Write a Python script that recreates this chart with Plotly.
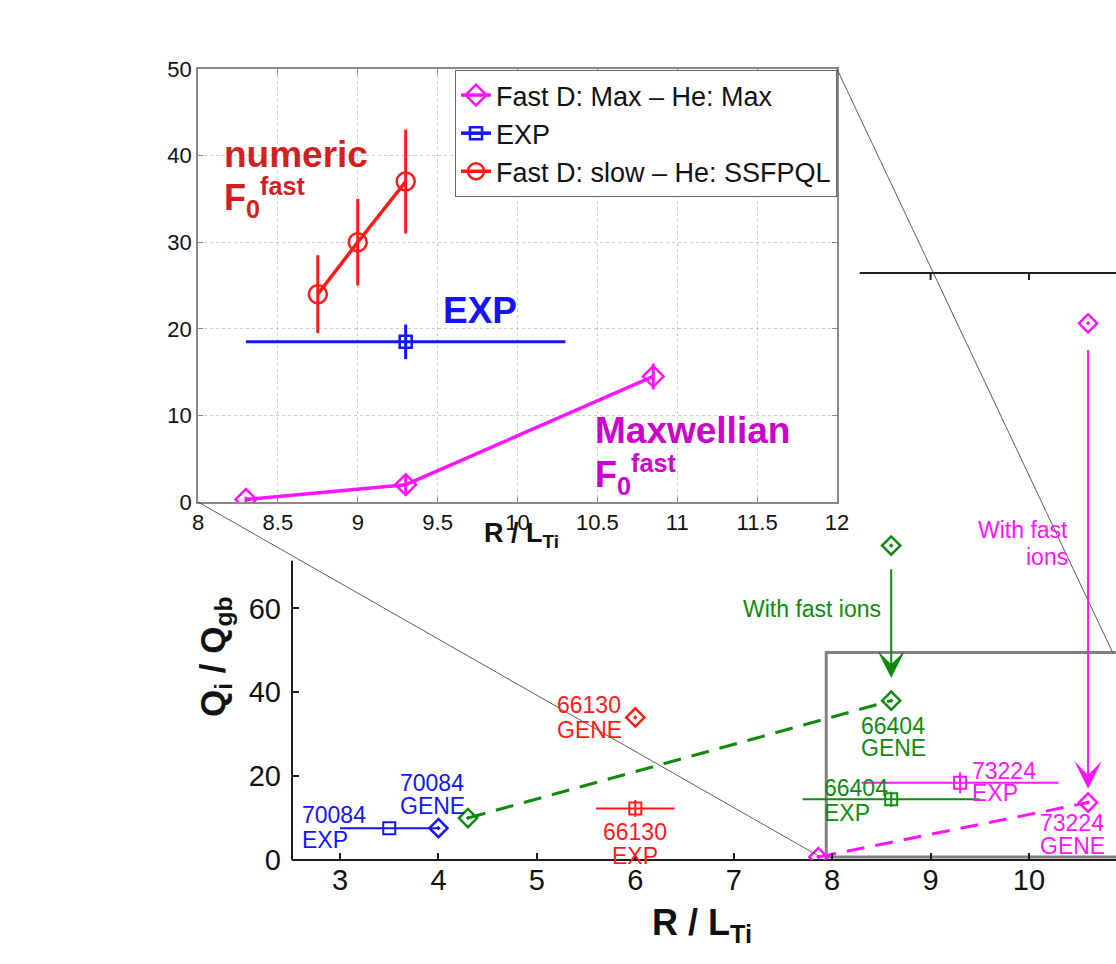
import plotly.graph_objects as go

W, H = 1116, 964
FONT = "Liberation Sans, Arial, Helvetica, sans-serif"

BLUE = "#1414ff"
RED = "#ff1a1a"
GREEN = "#0f8a0f"
MAGENTA = "#ff14ff"
DKRED = "#d21f1f"
DKMAG = "#cc00cc"

# ---------------- main panel data ----------------
exp70084_x = [3.5]
exp70084_y = [7.6]
exp70084_xerr = [0.5]

gene70084_x = [4.0]
gene70084_y = [7.6]

gene66130_x = [6.0]
gene66130_y = [34.0]

exp66130_x = [6.0]
exp66130_y = [12.3]
exp66130_xerr = [0.4]
exp66130_yerr = [2.0]

gene66404_x = [4.3, 8.6]
gene66404_y = [10.0, 38.0]
gene66404_nofast_x = [8.6]
gene66404_nofast_y = [75.0]

exp66404_x = [8.6]
exp66404_y = [14.5]
exp66404_xerr = [0.9]
exp66404_yerr = [1.8]

gene73224_x = [7.86, 10.6]
gene73224_y = [0.7, 13.7]
gene73224_nofast_x = [10.6]
gene73224_nofast_y = [128.0]

exp73224_x = [9.3]
exp73224_y = [18.4]
exp73224_xerr = [1.0]
exp73224_yerr = [2.5]

main_xticks = [3, 4, 5, 6, 7, 8, 9, 10]
main_yticks = [0, 20, 40, 60]
main_top_ticks = [9, 10]

# ---------------- inset data ----------------
max_x = [8.3, 9.3, 10.85]
max_y = [0.3, 2.0, 14.5]
max_yerr = [0.3, 1.2, 1.5]

expi_x = [9.3]
expi_y = [18.5]
expi_xerr = [1.0]
expi_yerr = [2.0]

slow_x = [8.75, 9.0, 9.3]
slow_y = [24.0, 30.0, 37.0]
slow_yerr = [4.5, 5.0, 6.0]

inset_xticks = [8, 8.5, 9, 9.5, 10, 10.5, 11, 11.5, 12]
inset_xticklabels = ["8", "8.5", "9", "9.5", "10", "10.5", "11", "11.5", "12"]
inset_yticks = [0, 10, 20, 30, 40, 50]

# ---------------- geometry ----------------
MX_DOM = [292 / W, 1.0]
MY_DOM = [(H - 860) / H, (H - 273) / H]
MX_RANGE = [2.512, 10.884]
MY_RANGE = [0, 140]

IX_DOM = [198 / W, 837 / W]
IY_DOM = [(H - 502) / H, (H - 69) / H]
IX_RANGE = [8, 12]
IY_RANGE = [0, 50]


def to_paper(v, rng, dom):
    return dom[0] + (v - rng[0]) / (rng[1] - rng[0]) * (dom[1] - dom[0])


fig = go.Figure()

# ---------------- main traces ----------------
mk = dict(size=14, line=dict(width=2.5))

fig.add_trace(go.Scatter(x=gene66404_x, y=gene66404_y, mode="lines+markers",
                         line=dict(color=GREEN, width=3, dash="18px,11px"),
                         marker=dict(symbol="diamond-open-dot", color=GREEN, **mk),
                         showlegend=False))
fig.add_trace(go.Scatter(x=gene66404_nofast_x, y=gene66404_nofast_y, mode="markers",
                         marker=dict(symbol="diamond-open-dot", color=GREEN, **mk),
                         showlegend=False))
fig.add_trace(go.Scatter(x=gene73224_x, y=gene73224_y, mode="lines+markers",
                         line=dict(color=MAGENTA, width=3, dash="18px,11px"),
                         marker=dict(symbol="diamond-open-dot", color=MAGENTA, **mk),
                         showlegend=False))
fig.add_trace(go.Scatter(x=gene73224_nofast_x, y=gene73224_nofast_y, mode="markers",
                         marker=dict(symbol="diamond-open-dot", color=MAGENTA, **mk),
                         showlegend=False))
fig.add_trace(go.Scatter(x=gene70084_x, y=gene70084_y, mode="markers",
                         marker=dict(symbol="diamond-open-dot", color=BLUE, **mk),
                         showlegend=False))
fig.add_trace(go.Scatter(x=gene66130_x, y=gene66130_y, mode="markers",
                         marker=dict(symbol="diamond-open-dot", color=RED, **mk),
                         showlegend=False))


def exp_trace(x, y, xerr, yerr, color):
    ey = dict(type="data", array=yerr, thickness=2, width=0, color=color) if yerr else dict(visible=False)
    return go.Scatter(x=x, y=y, mode="markers",
                      marker=dict(symbol="square-open", size=12, color=color, line=dict(width=2)),
                      error_x=dict(type="data", array=xerr, thickness=2, width=0, color=color),
                      error_y=ey, showlegend=False)


fig.add_trace(exp_trace(exp70084_x, exp70084_y, exp70084_xerr, None, BLUE))
fig.add_trace(exp_trace(exp66130_x, exp66130_y, exp66130_xerr, exp66130_yerr, RED))
fig.add_trace(exp_trace(exp66404_x, exp66404_y, exp66404_xerr, exp66404_yerr, GREEN))
fig.add_trace(exp_trace(exp73224_x, exp73224_y, exp73224_xerr, exp73224_yerr, MAGENTA))

# ---------------- inset traces ----------------
fig.add_trace(go.Scatter(x=max_x, y=max_y, mode="lines+markers", xaxis="x2", yaxis="y2",
                         name="Fast D: Max \u2013 He: Max",
                         line=dict(color=MAGENTA, width=3.5),
                         marker=dict(symbol="diamond-open", size=16, color=MAGENTA, line=dict(width=2.5)),
                         error_y=dict(type="data", array=max_yerr, thickness=3, width=0, color=MAGENTA)))
fig.add_trace(go.Scatter(x=expi_x, y=expi_y, mode="lines+markers", xaxis="x2", yaxis="y2",
                         name="EXP",
                         line=dict(color=BLUE, width=3.5),
                         marker=dict(symbol="square-open", size=12, color=BLUE, line=dict(width=2.5)),
                         error_x=dict(type="data", array=expi_xerr, thickness=3, width=0, color=BLUE),
                         error_y=dict(type="data", array=expi_yerr, thickness=3, width=0, color=BLUE)))
fig.add_trace(go.Scatter(x=slow_x, y=slow_y, mode="lines+markers", xaxis="x2", yaxis="y2",
                         name="Fast D: slow \u2013 He: SSFPQL",
                         line=dict(color=RED, width=3.5),
                         marker=dict(symbol="circle-open", size=18, color=RED, line=dict(width=2.5)),
                         error_y=dict(type="data", array=slow_yerr, thickness=3, width=0, color=RED)))

# ---------------- shapes ----------------
AX = "#1e1e1e"
shapes = [
    # main spines (left spine hidden behind inset area above ~71)
    dict(type="line", xref="x domain", yref="y", x0=0, x1=0, y0=0, y1=71.4,
         line=dict(color=AX, width=2), layer="below"),
    dict(type="line", xref="x domain", yref="y domain", x0=0, x1=1, y0=0, y1=0,
         line=dict(color=AX, width=2), layer="below"),
    dict(type="line", xref="x", yref="y domain", x0=8.28, x1=MX_RANGE[1], y0=1, y1=1,
         line=dict(color=AX, width=2), layer="below"),
    # zoom box
    dict(type="rect", xref="x", yref="y", x0=7.94, x1=12.5, y0=0.7, y1=49.5,
         line=dict(color="#808080", width=3), layer="below"),
]
for t in main_top_ticks:
    shapes.append(dict(type="line", xref="x", yref="y", ysizemode="pixel", yanchor=MY_RANGE[1],
                       x0=t, x1=t, y0=0, y1=-7, line=dict(color=AX, width=2)))

# connecting lines from inset corners to zoom box
ax0 = to_paper(8, IX_RANGE, IX_DOM); ay0 = to_paper(0, IY_RANGE, IY_DOM)
bx0 = to_paper(7.86, MX_RANGE, MX_DOM); by0 = to_paper(1.0, MY_RANGE, MY_DOM)
ax1 = to_paper(12, IX_RANGE, IX_DOM); ay1 = to_paper(50, IY_RANGE, IY_DOM)
bx1 = to_paper(10.85, MX_RANGE, MX_DOM); by1 = to_paper(49.5, MY_RANGE, MY_DOM)
shapes.append(dict(type="line", xref="paper", yref="paper", x0=ax0, y0=ay0, x1=bx0, y1=by0,
                   line=dict(color="#333333", width=0.8), layer="above"))
shapes.append(dict(type="line", xref="paper", yref="paper", x0=ax1, y0=ay1, x1=bx1, y1=by1,
                   line=dict(color="#333333", width=0.8), layer="above"))

# ---------------- annotations ----------------
ann = []


def lab(text, x, y, color, xanchor="left", size=23, xref="x", yref="y"):
    ann.append(dict(text=text, x=x, y=y, xref=xref, yref=yref, xanchor=xanchor, yanchor="middle",
                    showarrow=False, font=dict(family=FONT, size=size, color=color)))


lab("70084", 2.59, 10.7, BLUE)
lab("EXP", 2.59, 4.8, BLUE)
lab("70084", 3.59, 18.4, BLUE)
lab("GENE", 3.59, 12.9, BLUE)
lab("66130", 5.18, 37.0, RED)
lab("GENE", 5.18, 31.0, RED)
lab("66130", 6.0, 6.7, RED, "center")
lab("EXP", 6.0, 1.0, RED, "center")
lab("66404", 8.62, 32.0, GREEN, "center")
lab("GENE", 8.62, 26.7, GREEN, "center")
lab("66404", 7.90, 17.2, GREEN)
lab("EXP", 7.90, 11.2, GREEN)
lab("73224", 9.40, 21.2, MAGENTA)
lab("EXP", 9.40, 16.0, MAGENTA)
lab("73224", 10.44, 8.8, MAGENTA, "center")
lab("GENE", 10.44, 3.3, MAGENTA, "center")
lab("With fast ions", 7.80, 59.9, GREEN, "center")
lab("With fast", 10.42, 78.7, MAGENTA, "right")
lab("ions", 10.42, 72.3, MAGENTA, "right")

# arrows
ann.append(dict(x=8.6, y=43.4, ax=8.6, ay=69.7, xref="x", yref="y", axref="x", ayref="y",
                text="", showarrow=True, arrowhead=3, arrowsize=2.3, arrowwidth=2, arrowcolor=GREEN))
ann.append(dict(x=10.6, y=17.0, ax=10.6, ay=122.0, xref="x", yref="y", axref="x", ayref="y",
                text="", showarrow=True, arrowhead=3, arrowsize=2.3, arrowwidth=2, arrowcolor=MAGENTA))

# inset labels
lab("<b>numeric</b>", 8.15, 40.1, DKRED, size=37, xref="x2", yref="y2")
lab("<b>F<sub>0</sub><sup>fast</sup></b>", 8.15, 35.2, DKRED, size=36, xref="x2", yref="y2")
lab("<b>EXP</b>", 9.52, 22.1, BLUE, size=37, xref="x2", yref="y2")
lab("<b>Maxwellian</b>", 10.47, 8.3, DKMAG, size=37, xref="x2", yref="y2")
lab("<b>F<sub>0</sub><sup>fast</sup></b>", 10.47, 3.2, DKMAG, size=36, xref="x2", yref="y2")

# axis titles
lab("<b>R / L<sub>Ti</sub></b>", 521 / W, (H - 535) / H, "#111111", "center", 27, "paper", "paper")
lab("<b>R / L<sub>Ti</sub></b>", 702 / W, (H - 925) / H, "#111111", "center", 36, "paper", "paper")
ann.append(dict(text="<b>Q<sub>i</sub> / Q<sub>gb</sub></b>", x=215 / W, y=(H - 657) / H,
                xref="paper", yref="paper", xanchor="center", yanchor="middle", textangle=-90,
                showarrow=False, font=dict(family=FONT, size=35, color="#111111")))

fig.update_layout(
    width=W, height=H,
    margin=dict(l=0, r=0, t=0, b=0),
    paper_bgcolor="white", plot_bgcolor="white",
    font=dict(family=FONT, color="#111111"),
    shapes=shapes, annotations=ann,
    xaxis=dict(domain=MX_DOM, range=MX_RANGE, tickvals=main_xticks, ticks="inside", ticklen=7,
               tickwidth=2, tickcolor=AX, showline=False, showgrid=False, zeroline=False,
               tickfont=dict(size=29, color="#111111"), automargin=False, anchor="y"),
    yaxis=dict(domain=MY_DOM, range=MY_RANGE, tickvals=main_yticks, ticks="inside", ticklen=7,
               tickwidth=2, tickcolor=AX, showline=False, showgrid=False, zeroline=False,
               ticklabelstandoff=10,
               tickfont=dict(size=29, color="#111111"), automargin=False, anchor="x"),
    xaxis2=dict(domain=IX_DOM, range=IX_RANGE, tickvals=inset_xticks, ticktext=inset_xticklabels,
                ticks="inside", ticklen=5, tickcolor="#888888", showline=True, linecolor="#888888",
                linewidth=1.5, mirror="ticks", showgrid=True, gridcolor="#cccccc", griddash="dot",
                gridwidth=1, zeroline=False, tickfont=dict(size=22, color="#111111"),
                automargin=False, anchor="y2"),
    yaxis2=dict(domain=IY_DOM, range=IY_RANGE, tickvals=inset_yticks,
                ticks="inside", ticklen=5, tickcolor="#888888", showline=True, linecolor="#888888",
                linewidth=1.5, mirror="ticks", showgrid=True, gridcolor="#cccccc", griddash="dot",
                gridwidth=1, zeroline=False, tickfont=dict(size=22, color="#111111"),
                automargin=False, anchor="x2"),
    legend=dict(x=837 / W, y=(H - 70) / H, xanchor="right", yanchor="top",
                bgcolor="white", bordercolor="#666666", borderwidth=1,
                font=dict(family=FONT, size=27, color="#111111"), tracegroupgap=0),
)

fig.write_html("out.html")
